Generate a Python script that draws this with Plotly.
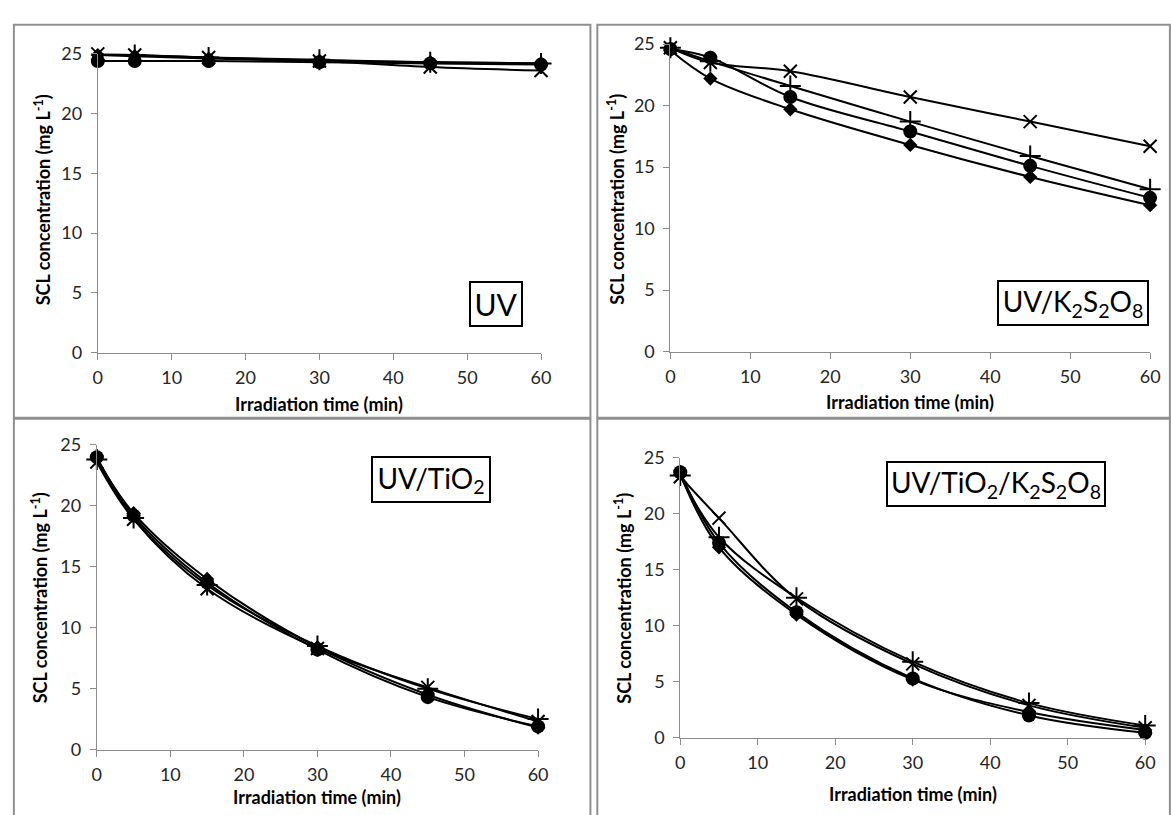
import plotly.graph_objects as go

W, H = 1171, 815

times = [0, 5, 15, 30, 45, 60]
series_names = ["diamond", "circle", "plus", "cross"]

# UV
uv_diamond = [24.9, 24.8, 24.6, 24.4, 24.3, 24.2]
uv_circle = [24.4, 24.4, 24.4, 24.3, 24.2, 24.1]
uv_plus = [25.1, 24.9, 24.7, 24.5, 24.3, 24.2]
uv_cross = [25.0, 24.9, 24.7, 24.4, 23.9, 23.6]

# UV/K2S2O8
ks_diamond = [24.5, 22.2, 19.7, 16.8, 14.2, 11.9]
ks_circle = [24.6, 23.9, 20.7, 17.9, 15.1, 12.5]
ks_plus = [24.7, 23.6, 21.6, 18.7, 15.9, 13.2]
ks_cross = [24.7, 23.5, 22.8, 20.7, 18.7, 16.7]

# UV/TiO2
ti_diamond = [23.9, 19.4, 14.0, 8.4, 4.5, 1.8]
ti_circle = [24.0, 19.2, 13.7, 8.2, 4.3, 1.9]
ti_plus = [23.8, 19.0, 13.5, 8.5, 5.0, 2.5]
ti_cross = [23.6, 18.9, 13.2, 8.3, 5.1, 2.3]

# UV/TiO2/K2S2O8
tk_diamond = [23.5, 17.0, 11.0, 5.2, 2.3, 0.7]
tk_circle = [23.7, 17.4, 11.2, 5.3, 2.0, 0.45]
tk_plus = [23.4, 17.9, 12.5, 6.8, 3.1, 1.1]
tk_cross = [23.3, 19.6, 12.4, 6.6, 2.9, 0.9]

panel_labels = ["UV", "UV/K<sub>2</sub>S<sub>2</sub>O<sub>8</sub>", "UV/TiO<sub>2</sub>",
                "UV/TiO<sub>2</sub>/K<sub>2</sub>S<sub>2</sub>O<sub>8</sub>"]
x_title = "Irradiation time (min)"
y_title = "SCL concentration (mg L<sup>-1</sup>)"
x_ticks = [0, 10, 20, 30, 40, 50, 60]
y_ticks = [0, 5, 10, 15, 20, 25]

panels_data = [
    [uv_diamond, uv_circle, uv_plus, uv_cross],
    [ks_diamond, ks_circle, ks_plus, ks_cross],
    [ti_diamond, ti_circle, ti_plus, ti_cross],
    [tk_diamond, tk_circle, tk_plus, tk_cross],
]

# layout in pixels: plot area (x0, x1, ytop, ybottom)
plot_px = [
    (94, 543, 43, 350),
    (674, 1160, 33, 349),
    (93, 540, 445, 758),
    (684, 1155, 458, 746),
]
# panel frames (x0, y0, x1, y1)
frames_px = [
    (9, 13, 593, 417),
    (600, 13, 1180, 417),
    (9, 418, 593, 830),
    (600, 418, 1180, 830),
]
# label boxes (cx, cy, w, h)
boxes_px = [
    (497, 300, 54, 46),
    (1082, 299, 152, 46),
    (432, 480, 120, 47),
    (1004, 485, 220, 46),
]
box_font = [30, 28, 28, 28]
# axis-title centres: (ytitle_x, ytitle_y, xtitle_y)
titles_px = [
    (38, 193, 403),
    (619, 193, 401),
    (35, 602, 807),
    (626, 602, 804),
]

def px_x(p):
    return p / W

def px_y(p):
    return 1 - p / H

marker_specs = {
    "diamond": dict(symbol="diamond", size=11, color="black"),
    "circle": dict(symbol="circle", size=14, color="black"),
    "plus": dict(symbol="cross-thin", size=15, color="black", line=dict(width=2, color="black")),
    "cross": dict(symbol="x-thin", size=13, color="black", line=dict(width=2, color="black")),
}

fig = go.Figure()
FONT = "Lato"
TICK_COLOR = "#8c8c8c"

for i, data in enumerate(panels_data):
    xa = "x" if i == 0 else f"x{i+1}"
    ya = "y" if i == 0 else f"y{i+1}"
    for name, vals in zip(series_names, data):
        fig.add_trace(go.Scatter(
            x=times, y=vals, mode="lines+markers",
            line=dict(color="black", width=2, shape="spline", smoothing=1.0),
            marker=marker_specs[name], xaxis=xa, yaxis=ya,
            cliponaxis=False, showlegend=False, name=name,
        ))
    x0, x1, yt, yb = plot_px[i]
    axis_common = dict(
        showline=True, linecolor=TICK_COLOR, linewidth=1,
        ticks="outside", ticklen=6, tickcolor=TICK_COLOR, tickwidth=1,
        showgrid=False, zeroline=False,
        tickfont=dict(family=FONT, size=18, color="#262626"),
        fixedrange=True,
    )
    xkey = "xaxis" if i == 0 else f"xaxis{i+1}"
    ykey = "yaxis" if i == 0 else f"yaxis{i+1}"
    fig.update_layout(**{
        xkey: dict(domain=[px_x(x0), px_x(x1)], range=[0, 60], tickvals=x_ticks,
                   anchor=ya, ticklabelstandoff=3, **axis_common),
        ykey: dict(domain=[px_y(yb), px_y(yt)], range=[0, 25], tickvals=y_ticks,
                   anchor=xa, ticklabelstandoff=5, **axis_common),
    })
    # frame
    fx0, fy0, fx1, fy1 = frames_px[i]
    fig.add_shape(type="rect", xref="paper", yref="paper",
                  x0=px_x(fx0), x1=px_x(fx1), y0=px_y(fy1), y1=px_y(fy0),
                  line=dict(color="#8f8f8f", width=2), layer="below")
    # label box
    cx, cy, bw, bh = boxes_px[i]
    fig.add_annotation(xref="paper", yref="paper", x=px_x(cx), y=px_y(cy),
                       xanchor="center", yanchor="middle", showarrow=False,
                       text=panel_labels[i], width=bw - 4, height=bh - 4,
                       font=dict(family=FONT, size=box_font[i], color="black"),
                       bordercolor="black", borderwidth=2, borderpad=0, bgcolor="white")
    tx, ty, xty = titles_px[i]
    fig.add_annotation(xref="paper", yref="paper", x=px_x(tx), y=px_y(ty),
                       xanchor="center", yanchor="middle", showarrow=False,
                       text=y_title, textangle=-90,
                       font=dict(family=FONT, size=18, color="black", weight="bold"))
    fig.add_annotation(xref="paper", yref="paper", x=px_x((x0 + x1) / 2), y=px_y(xty),
                       xanchor="center", yanchor="middle", showarrow=False,
                       text=x_title,
                       font=dict(family=FONT, size=18, color="black", weight="bold"))

fig.update_layout(width=W, height=H, margin=dict(l=0, r=0, t=0, b=0),
                  paper_bgcolor="white", plot_bgcolor="white")

fig.write_html(
    "out.html",
    config={"displayModeBar": False},
    post_script="document.body.style.margin='0';document.body.style.overflow='hidden';",
)
